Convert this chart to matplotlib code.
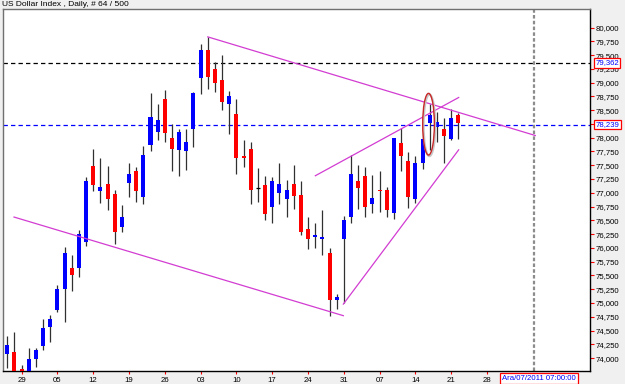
import numpy as np
import matplotlib
matplotlib.use("Agg")
import matplotlib.pyplot as plt
from matplotlib.patches import Ellipse
from matplotlib.transforms import blended_transform_factory

plt.rcParams['font.family'] = ['Liberation Sans', 'DejaVu Sans']

# ---------------- data ----------------
title = "US Dollar Index , Daily, # 64 / 500"
opens = [74.07, 74.11, 73.80, 73.74, 73.99, 74.22, 74.56, 74.87, 75.25, 75.63,
         75.63, 76.11, 77.48, 77.04, 77.16, 76.98, 76.38, 77.17, 77.39, 76.93,
         77.87, 78.11, 78.70, 78.00, 77.78, 77.75, 78.16, 79.09, 79.59, 79.24,
         79.05, 78.62, 78.43, 77.67, 77.79, 77.09, 77.14, 76.75, 77.00, 76.89,
         77.16, 76.96, 76.34, 76.20, 76.16, 75.90, 75.05, 76.17, 76.56, 77.21,
         77.31, 76.79, 77.05, 77.05, 76.63, 77.90, 77.58, 76.88, 77.54, 78.26,
         78.19, 78.15, 77.98, 78.42]
highs = [74.41, 74.47, 73.88, 74.18, 74.19, 74.71, 74.78, 75.33, 76.01, 75.87,
         76.33, 77.29, 77.79, 77.63, 77.49, 77.05, 76.78, 77.54, 77.46, 77.85,
         78.81, 78.62, 78.87, 78.24, 78.15, 78.16, 78.83, 79.70, 79.83, 79.38,
         79.51, 78.85, 78.70, 77.96, 77.93, 77.45, 77.31, 77.28, 77.55, 77.23,
         77.51, 77.22, 76.56, 76.45, 76.68, 76.00, 75.16, 76.58, 77.69, 77.51,
         77.47, 77.32, 77.40, 77.11, 78.00, 78.17, 77.74, 77.66, 78.10, 78.62,
         78.47, 78.35, 78.53, 78.45]
lows = [73.82, 73.55, 73.55, 73.60, 73.83, 74.15, 74.30, 74.84, 74.66, 75.22,
        75.48, 76.04, 77.04, 76.81, 76.68, 76.07, 76.28, 76.92, 76.83, 76.79,
        77.76, 77.95, 77.93, 77.39, 77.30, 77.41, 77.83, 78.79, 78.89, 78.83,
        78.50, 78.06, 77.34, 77.47, 76.79, 76.84, 76.51, 76.45, 76.80, 76.57,
        76.71, 76.23, 75.98, 75.99, 75.87, 74.76, 74.90, 75.00, 76.46, 76.70,
        76.57, 76.63, 76.66, 76.57, 76.52, 77.40, 76.72, 76.81, 77.43, 77.78,
        77.93, 77.55, 77.96, 77.97]
closes = [74.24, 73.70, 73.72, 73.98, 74.15, 74.55, 74.71, 75.25, 75.91, 75.51,
          76.25, 77.22, 77.14, 77.11, 76.89, 76.29, 76.56, 77.35, 77.04, 77.69,
          78.38, 78.32, 78.09, 77.80, 78.11, 77.93, 78.81, 79.59, 79.10, 78.99,
          78.65, 78.76, 77.64, 77.64, 77.05, 77.09, 76.62, 77.21, 77.16, 77.06,
          76.94, 76.29, 76.16, 76.23, 76.20, 75.05, 75.10, 76.51, 77.34, 77.09,
          76.75, 76.91, 77.03, 76.68, 77.99, 77.66, 76.92, 77.54, 77.97, 78.42,
          78.29, 78.04, 78.35, 78.26]

# Monday tick labels (bar index, label)
tick_idx = [2, 7, 12, 17, 22, 27, 32, 37, 42, 47, 52, 57, 62, 67]
tick_labels = ['29', '05', '12', '19', '26', '03', '10', '17', '24', '31',
               '07', '14', '21', '28']
price_ticks = [74.0 + 0.25 * k for k in range(25)]

# horizontal price levels
level_black = 79.362
level_blue = 78.239
cursor_bar = 73.6
cursor_label = "Ara/07/2011 07:00:00"

# trend lines: (bar, price) endpoints
trend_lines = [
    ((28.0, 79.83), (73.74, 78.04)),
    ((0.94, 76.56), (46.93, 74.77)),
    ((43.02, 77.31), (63.04, 78.73)),
    ((46.93, 74.98), (63.04, 77.78)),
]
ellipse_center = (58.83, 78.245)
ellipse_size = (1.63, 1.12)

# ---------------- figure ----------------
W, H = 625, 384
fig = plt.figure(figsize=(W / 100, H / 100), dpi=100, facecolor='#F0F0F0')
ax = fig.add_axes([3 / W, 1 - 371 / H, (590 - 3) / W, (371 - 9) / H])
ax.set_facecolor('white')

x = np.arange(len(opens))
o = np.array(opens); h = np.array(highs); l = np.array(lows); c = np.array(closes)

# wicks
ax.vlines(x, l, h, color='#303030', linewidth=0.9, zorder=2)

bull = c > o + 0.005
bear = c < o - 0.005
doji = ~(bull | bear)
bw = 0.56
ax.bar(x[bull], np.maximum(c[bull] - o[bull], 0.02), bottom=o[bull], width=bw,
       color='#0000FF', edgecolor='none', zorder=3)
ax.bar(x[bear], np.maximum(o[bear] - c[bear], 0.02), bottom=c[bear], width=bw,
       color='#FF0000', edgecolor='none', zorder=3)
ax.hlines(o[doji], x[doji] - bw / 2, x[doji] + bw / 2, color='black',
          linewidth=0.9, zorder=3)

# levels
ax.axhline(level_black, color='black', linewidth=0.9, dashes=(3.5, 2.5), zorder=1)
ax.axhline(level_blue, color='#0000FF', linewidth=0.9, dashes=(3.5, 2.5), zorder=1)
ax.axvline(cursor_bar, color='#8C8C8C', linewidth=1.6, dashes=(1.6, 1.0), zorder=1)

# trend lines
for (x0, y0), (x1, y1) in trend_lines:
    ax.plot([x0, x1], [y0, y1], color='#D23CD2', linewidth=0.9, zorder=4)

# ellipse with slight shadow
ax.add_patch(Ellipse((ellipse_center[0] + 0.12, ellipse_center[1] - 0.02),
                     ellipse_size[0], ellipse_size[1], fill=False,
                     edgecolor='#C8C8C8', linewidth=1.6, zorder=4))
ax.add_patch(Ellipse(ellipse_center, ellipse_size[0], ellipse_size[1],
                     fill=False, edgecolor='#C82828', linewidth=1.0, zorder=5))

# axes limits
ax.set_xlim(-0.60, 81.38)
ax.set_ylim(73.766, 80.336)

# y axis on right
ax.yaxis.tick_right()
ax.set_yticks(price_ticks)
ax.set_yticklabels([f"{p:.3f}".replace('.', ',') for p in price_ticks])
ax.tick_params(axis='y', which='major', direction='out', length=3, width=0.8,
               color='#FF0000', labelsize=5.6, pad=1, labelcolor='black')
ax.set_xticks(tick_idx)
ax.set_xticklabels(tick_labels)
ax.tick_params(axis='x', which='major', direction='out', length=2, width=0.8,
               color='#FF0000', labelsize=5.6, pad=2, labelcolor='black')

for s in ['left', 'top']:
    ax.spines[s].set_color('#707070')
    ax.spines[s].set_linewidth(1.0)
for s in ['right', 'bottom']:
    ax.spines[s].set_color('black')
    ax.spines[s].set_linewidth(1.0)

# level labels on right axis
tr = blended_transform_factory(ax.transAxes, ax.transData)
for lv in (level_black, level_blue):
    ax.text(1.009, lv, f"{lv:.3f}".replace('.', ','), transform=tr,
            fontsize=5.6, color='#0000FF', ha='left', va='center', zorder=10,
            bbox=dict(boxstyle='square,pad=0.18', facecolor='white',
                      edgecolor='#FF0000', linewidth=0.9), clip_on=False)

# cursor date label
fig.text(538.8 / W, 1 - 378.5 / H, cursor_label, fontsize=5.6, color='#0000FF',
         ha='center', va='center',
         bbox=dict(boxstyle='square,pad=0.25', facecolor='white',
                   edgecolor='#FF0000', linewidth=0.9))

# title
fig.text(2 / W, 1 - 4.5 / H, title, fontsize=6.0, color='black', ha='left',
         va='center')

fig.savefig('out.png', dpi=100, facecolor=fig.get_facecolor())
